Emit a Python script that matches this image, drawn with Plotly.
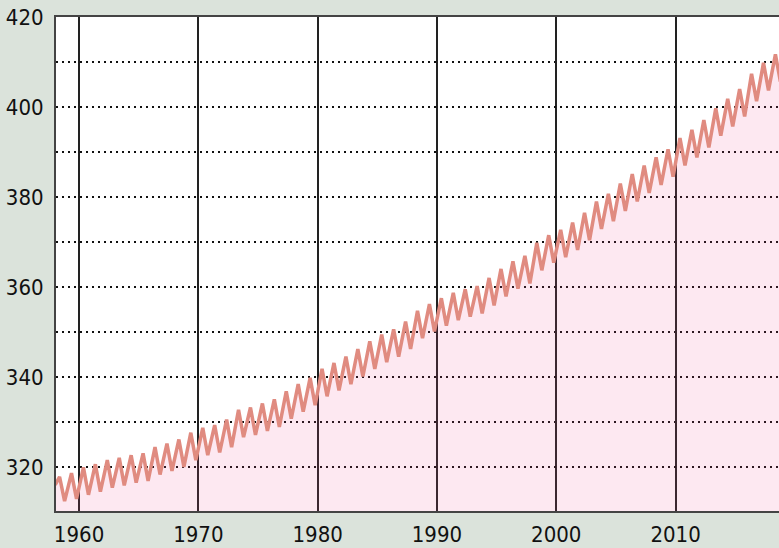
import plotly.graph_objects as go

years = list(range(1958, 2019))
# seasonal maxima (around May) and minima (around October), ppm
peaks = [317.8, 318.6, 319.9, 320.6, 321.5, 322.0, 322.6, 323.0, 324.4, 325.2,
         326.1, 327.6, 328.7, 329.3, 330.5, 332.7, 333.2, 334.1, 335.0, 336.8,
         338.4, 339.8, 341.8, 343.1, 344.5, 346.2, 347.9, 349.4, 350.6, 352.3,
         354.7, 356.2, 357.5, 358.7, 359.5, 360.2, 362.0, 364.0, 365.7, 366.9,
         369.8, 371.5, 372.7, 374.3, 376.5, 379.0, 380.7, 383.0, 385.1, 387.0,
         388.8, 390.6, 393.1, 394.9, 397.1, 399.7, 401.8, 404.0, 407.4, 409.8,
         411.7]
troughs = [312.4, 312.9, 313.8, 314.5, 315.4, 315.9, 316.5, 316.9, 318.3, 319.1,
           320.0, 321.5, 322.6, 323.2, 324.4, 326.6, 327.1, 328.0, 328.9, 330.7,
           332.3, 333.7, 335.7, 337.0, 338.4, 340.1, 341.8, 343.3, 344.5, 346.2,
           348.6, 350.1, 351.4, 352.6, 353.4, 354.1, 355.9, 357.9, 359.6, 360.8,
           363.7, 365.4, 366.6, 368.2, 370.4, 372.9, 374.6, 376.9, 379.0, 380.9,
           382.7, 384.5, 387.0, 388.8, 391.0, 393.6, 395.7, 397.9, 401.3, 403.7,
           405.6]
start_value = 316.0
y_ticks = [320, 340, 360, 380, 400, 420]
x_ticks = [1960, 1970, 1980, 1990, 2000, 2010]

PEAK_OFFSET = 0.37
TROUGH_OFFSET = 0.79

xs = [years[0]]
ys = [start_value]
for yr, p, t in zip(years, peaks, troughs):
    xs += [yr + PEAK_OFFSET, yr + TROUGH_OFFSET]
    ys += [p, t]

FONT = "DejaVu Sans Condensed, Liberation Sans Narrow, sans-serif"

fig = go.Figure()
fig.add_trace(go.Scatter(
    x=xs, y=ys, mode="lines",
    line=dict(color="#e08b80", width=3.5),
    fill="tozeroy", fillcolor="rgba(240,80,150,0.13)",
    hoverinfo="skip", showlegend=False,
))

fig.update_layout(
    width=779, height=548,
    paper_bgcolor="#dbe3db", plot_bgcolor="#ffffff",
    margin=dict(l=56, r=0, t=17, b=37, autoexpand=False),
    font=dict(family=FONT, size=22, color="#111111"),
    showlegend=False,
)
fig.update_xaxes(
    range=[1958.07, 2018.67],
    tickvals=x_ticks, ticktext=[str(v) for v in x_ticks],
    showgrid=True, gridcolor="#222222", gridwidth=1.6,
    showline=True, linecolor="#444444", linewidth=2, mirror=True,
    ticks="", zeroline=False, automargin=False, ticklabelstandoff=3,
)
fig.update_yaxes(
    range=[310.2, 420],
    tickvals=y_ticks, ticktext=[str(v) for v in y_ticks],
    showgrid=True, gridcolor="#111111", gridwidth=2, griddash="2px,4px",
    minor=dict(dtick=10, tick0=310, showgrid=True, gridcolor="#111111", gridwidth=2, griddash="2px,4px"),
    showline=True, linecolor="#444444", linewidth=2,
    ticks="", zeroline=False, ticklabelstandoff=6, automargin=False,
)

fig.write_html(
    "out.html",
    config={"displayModeBar": False},
    post_script="document.body.style.margin='0';document.body.style.overflow='hidden';document.body.style.background='#dbe3db';",
)
